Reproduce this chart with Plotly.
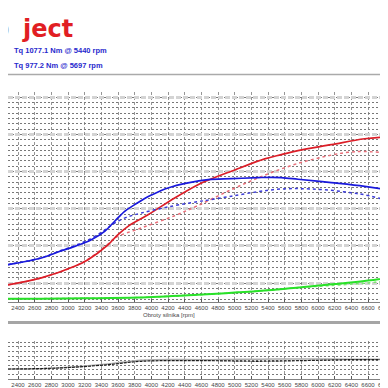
import plotly.graph_objects as go

# ---------------- data ----------------
rpm_tq_tuned = [2280, 2680, 2880, 3080, 3280, 3440, 3560, 3680, 3800, 3920, 4000, 4200,
                4440, 4680, 4960, 5280, 5440, 5560, 5760, 6160, 6560, 6960]
tq_tuned = [304, 363, 416, 466, 525, 599, 688, 776, 835, 890, 920, 982,
            1027, 1056, 1065, 1074, 1077.1, 1074, 1060, 1030, 997, 953]

rpm_tq_stock = [2280, 2680, 2880, 3080, 3280, 3440, 3560, 3700, 3880, 4200, 4560, 4680,
                4960, 5280, 5500, 5697, 5900, 6160, 6400, 6560, 6960]
tq_stock = [304, 365, 420, 472, 536, 610, 672, 722, 761, 815, 862, 875,
            910, 950, 970, 977.2, 974, 962, 940, 922, 850]

rpm_pw_tuned = [2280, 2680, 3080, 3240, 3480, 3600, 3720, 3960, 4280, 4560, 4680, 4960,
                5360, 5560, 5760, 6160, 6560, 6960]
pw_tuned = [60, 89, 138, 166, 229, 272, 307, 356, 427, 483, 502, 540,
            592, 610, 627, 652, 677, 687]

rpm_pw_stock = [2280, 2680, 3080, 3240, 3480, 3560, 3880, 4280, 4560, 4960, 5360, 5760,
                6160, 6360, 6560, 6960]
pw_stock = [60, 89, 138, 168, 232, 258, 300, 352, 395, 462, 523, 573,
            608, 620, 623, 613]

rpm_loss = [2280, 2680, 3200, 3840, 4560, 5000, 5400, 5800, 6200, 6600, 6960]
loss_tuned = [1, 1.5, 3, 6, 18, 27, 37, 50, 63, 78, 96]
loss_stock = [1, 1.5, 3, 6, 18, 27, 37, 49, 58, 68, 82]

rpm_lower = [2280, 2880, 3480, 3880, 4680, 5280, 5880, 6360, 6936]
lower_dash = [2.17, 2.39, 3.11, 3.85, 3.98, 3.85, 4.02, 4.2, 4.2]
lower_solid = [2.17, 2.39, 3.25, 4.1, 4.2, 4.3, 4.35, 4.3, 4.25]

header_lines = ["Tq 1077.1 Nm @ 5440 rpm", "Tq 977.2 Nm @ 5697 rpm"]
x_title = "Obroty silnika [rpm]"

# ---------------- layout helpers ----------------
W = H = 388
def py(p):
    return 1 - p / H

KW_PX = 4.225     # kW per pixel
NM_PX = 8.85      # Nm per pixel
GRID_PX = 5.31
X_RANGE = [2280, 6936]

fig = go.Figure()

# green (losses)
fig.add_trace(go.Scatter(x=rpm_loss, y=loss_stock, mode="lines", yaxis="y",
                         line=dict(color="rgb(120,230,110)", width=1.5, dash="dot",
                                   shape="spline")))
fig.add_trace(go.Scatter(x=rpm_loss, y=loss_tuned, mode="lines", yaxis="y",
                         line=dict(color="rgb(40,225,40)", width=2, shape="spline")))
# red power
fig.add_trace(go.Scatter(x=rpm_pw_stock, y=pw_stock, mode="lines", yaxis="y",
                         line=dict(color="rgb(232,110,120)", width=1.5, dash="dot",
                                   shape="spline")))
fig.add_trace(go.Scatter(x=rpm_pw_tuned, y=pw_tuned, mode="lines", yaxis="y",
                         line=dict(color="rgb(220,30,40)", width=1.7, shape="spline")))
# blue torque
fig.add_trace(go.Scatter(x=rpm_tq_stock, y=tq_stock, mode="lines", yaxis="y3",
                         line=dict(color="rgb(60,60,215)", width=1.5, dash="dot",
                                   shape="spline")))
fig.add_trace(go.Scatter(x=rpm_tq_tuned, y=tq_tuned, mode="lines", yaxis="y3",
                         line=dict(color="rgb(25,25,220)", width=1.7, shape="spline")))
# placeholder for secondary grid axis
fig.add_trace(go.Scatter(x=[None], y=[None], yaxis="y2", mode="lines"))

# lower chart
fig.add_trace(go.Scatter(x=rpm_lower, y=lower_solid, mode="lines", xaxis="x2", yaxis="y4",
                         line=dict(color="rgb(175,175,175)", width=1.5, shape="spline")))
fig.add_trace(go.Scatter(x=rpm_lower, y=lower_dash, mode="lines", xaxis="x2", yaxis="y4",
                         line=dict(color="rgb(30,30,30)", width=1.2, dash="3px,1px",
                                   shape="spline")))

tickfont = dict(family="Liberation Sans", size=6, color="rgb(70,70,70)")
xcommon = dict(range=X_RANGE, tick0=2400, dtick=200, showgrid=True,
               gridcolor="rgb(150,150,150)", griddash="3px,2px", gridwidth=1,
               zeroline=False, showline=True, linecolor="rgb(130,130,130)",
               linewidth=1, ticks="inside", ticklen=3, tickcolor="rgb(90,90,90)",
               tickfont=tickfont, fixedrange=True)

main_dom = [py(294), py(83.5)]
low_dom = [py(371), py(333)]

fig.update_layout(
    width=W, height=H, margin=dict(l=0, r=0, t=0, b=0),
    paper_bgcolor="white", plot_bgcolor="white", showlegend=False,
    xaxis=dict(domain=[0, 1], anchor="y", **xcommon),
    xaxis2=dict(domain=[0, 1], anchor="y4", **xcommon),
    yaxis=dict(domain=main_dom, range=[-3 * KW_PX, 207.5 * KW_PX], tick0=0,
               dtick=GRID_PX * KW_PX, showgrid=True, gridcolor="rgb(120,120,120)",
               griddash="2px,2px", gridwidth=1, showticklabels=False, ticks="",
               zeroline=False, showline=False),
    yaxis2=dict(overlaying="y", range=[-3 * KW_PX, 207.5 * KW_PX],
                tick0=3 * GRID_PX * KW_PX, dtick=7 * GRID_PX * KW_PX, showgrid=True,
                gridcolor="rgb(212,212,212)", gridwidth=3, griddash="5px,2px",
                showticklabels=False, ticks="", zeroline=False, showline=False),
    yaxis3=dict(overlaying="y", range=[-3 * NM_PX, 207.5 * NM_PX], visible=False,
                showgrid=False, zeroline=False),
    yaxis4=dict(domain=low_dom, anchor="x2", range=[0, 38 / 4.6], tick0=0, dtick=1,
                showgrid=True, gridcolor="rgb(120,120,120)", griddash="2px,2px",
                showticklabels=False, ticks="", zeroline=False, showline=False),
)

shapes = []
for yy, w, c in [(66.5, 1.5, "rgb(170,170,170)"), (314.5, 3, "rgb(165,165,165)"),
                 (386.5, 2, "rgb(175,175,175)")]:
    shapes.append(dict(type="line", xref="paper", yref="paper", x0=0, x1=1,
                       y0=py(yy), y1=py(yy), line=dict(color=c, width=w)))
fig.update_layout(shapes=shapes)

ann = []
ann.append(dict(text="o", x=4 / W, y=py(21), xref="paper", yref="paper",
                xanchor="right", yanchor="middle", showarrow=False,
                font=dict(family="DejaVu Sans", size=24, color="rgb(160,160,160)",
                          weight="bold")))
ann.append(dict(text="ject", x=12 / W, y=py(21), xref="paper", yref="paper",
                xanchor="left", yanchor="middle", showarrow=False,
                font=dict(family="DejaVu Sans", size=24, color="rgb(225,30,35)",
                          weight="bold")))
for i, t in enumerate(header_lines):
    ann.append(dict(text=t, x=4 / W, y=py(42 + 15 * i), xref="paper", yref="paper",
                    xanchor="left", yanchor="middle", showarrow=False,
                    font=dict(family="Liberation Sans", size=7.5,
                              color="rgb(40,40,205)", weight="bold")))
for yy in (307, 382):
    ann.append(dict(text=x_title, x=161 / W, y=py(yy), xref="paper", yref="paper",
                    xanchor="center", yanchor="middle", showarrow=False,
                    font=dict(family="Liberation Sans", size=6, color="rgb(70,70,70)")))
for yy in (298, 376):
    ann.append(dict(text="7000", x=393.3 / W, y=py(yy), xref="paper", yref="paper",
                    xanchor="center", yanchor="middle", showarrow=False,
                    font=tickfont))
fig.update_layout(annotations=ann)

fig.write_html("out.html")
